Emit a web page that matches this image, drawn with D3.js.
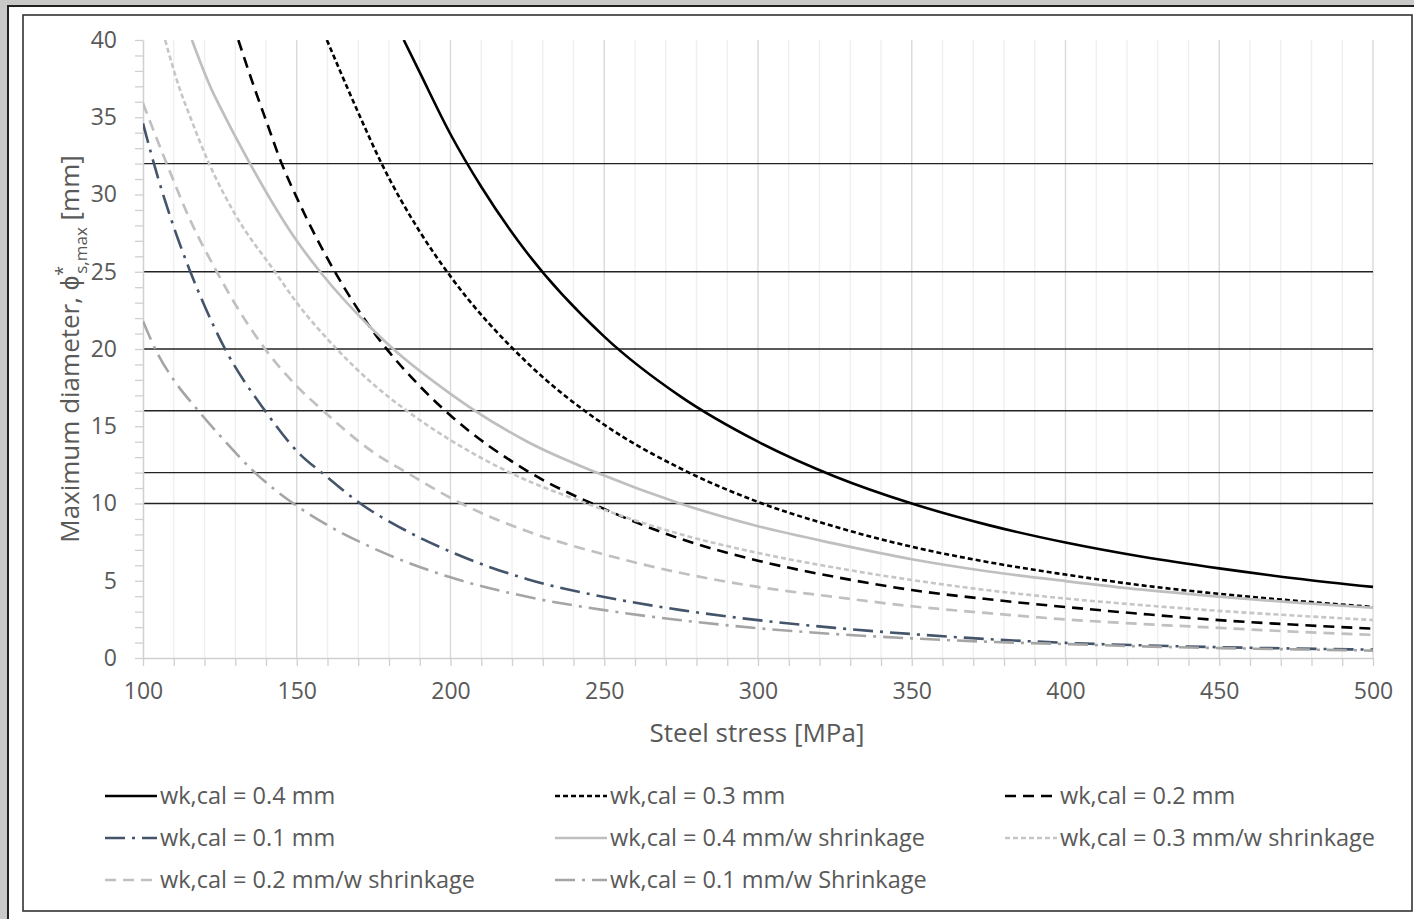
<!DOCTYPE html>
<html>
<head>
<meta charset="utf-8">
<script src="https://cdn.jsdelivr.net/npm/d3@7"></script>
<style>
  body { margin: 0; background: #c9c9c7; }
  svg { display: block; font-family: "Open Sans", sans-serif; }
</style>
</head>
<body>
<svg id="chart"></svg>
<script>
// steel stress [MPa] vs maximum bar diameter [mm]
var wk04  = [[184.8,40],[190,37.9],[200,33.9],[210,30.5],[225,26.2],[250,20.8],[275,16.9],[300,14.0],[325,11.75],[350,10],[375,8.6],[400,7.47],[425,6.55],[450,5.8],[475,5.15],[500,4.6]];
var wk03  = [[159.8,40],[170,35.3],[177.6,32],[190,27.6],[200,24.7],[225,19.1],[250,15.1],[275,12.25],[300,10.1],[325,8.5],[350,7.2],[375,6.2],[400,5.4],[425,4.7],[450,4.15],[475,3.7],[500,3.3]];
var wk02  = [[131,40],[136.4,36.8],[140,34.8],[145.1,32],[150,29.8],[162.4,25],[175,21.1],[190,17.6],[200,15.7],[225,12.1],[250,9.65],[275,7.7],[300,6.3],[325,5.25],[350,4.4],[375,3.8],[400,3.3],[425,2.85],[450,2.45],[475,2.15],[500,1.9]];
var wk01  = [[100,34.6],[105,31.0],[110,27.9],[115,25.2],[120,22.8],[126.7,20],[139.7,16],[150,13.4],[160,11.7],[170,10.1],[185,8.3],[200,6.88],[225,5.1],[250,3.95],[275,3.1],[300,2.45],[325,1.95],[350,1.55],[375,1.22],[400,0.98],[425,0.82],[450,0.7],[475,0.61],[500,0.54]];
var wk04s = [[115.9,40],[122.3,36.8],[125,35.7],[134.8,32],[150,27.0],[157.6,25],[175,21.2],[181.4,20],[200,17.1],[208,16],[225,14.0],[247.5,12],[274.6,10],[300,8.53],[325,7.4],[350,6.39],[375,5.6],[400,4.98],[425,4.42],[450,3.97],[475,3.58],[500,3.25]];
var wk03s = [[107.2,40],[112,36.8],[115,35.2],[121.5,32],[130,28.7],[142.9,25],[150,23.0],[163,20],[175,17.7],[185.8,16],[200,14.1],[219.3,12],[244.3,10],[275,8.0],[300,6.8],[325,5.85],[350,5.05],[375,4.38],[400,3.85],[425,3.42],[450,3.05],[475,2.74],[500,2.46]];
var wk02s = [[100,35.9],[107.7,32],[115,28.5],[124,25],[130,22.9],[139.7,20],[150,17.6],[158.6,16],[175,13.3],[185.8,12],[203.5,10],[225,8.2],[250,6.7],[275,5.5],[300,4.6],[325,3.95],[350,3.35],[375,2.9],[400,2.5],[425,2.2],[450,1.95],[475,1.7],[500,1.5]];
var wk01s = [[100,21.8],[105,19.6],[110,18.0],[118,16],[125,14.4],[136.4,12],[148.9,10],[160,8.6],[175,7.1],[200,5.22],[225,3.96],[250,3.1],[275,2.44],[300,1.93],[325,1.55],[350,1.27],[375,1.05],[400,0.9],[425,0.75],[450,0.64],[475,0.56],[500,0.48]];

var barDiameters = [10, 12, 16, 20, 25, 32];
var xTickLabels = [100, 150, 200, 250, 300, 350, 400, 450, 500];
var yTickLabels = [0, 5, 10, 15, 20, 25, 30, 35, 40];
var xMinorTicks = d3.range(100, 501, 10);
var yMinorTicks = d3.range(0, 41, 1);

var seriesNames = [
    'wk,cal = 0.4 mm', 'wk,cal = 0.3 mm', 'wk,cal = 0.2 mm',
    'wk,cal = 0.1 mm', 'wk,cal = 0.4 mm/w shrinkage', 'wk,cal = 0.3 mm/w shrinkage',
    'wk,cal = 0.2 mm/w shrinkage', 'wk,cal = 0.1 mm/w Shrinkage'
];
var seriesData = [wk04, wk03, wk02, wk01, wk04s, wk03s, wk02s, wk01s];

// line looks, same order as the names
var looks = [
    {color: '#000000', width: 2.6, dash: null},
    {color: '#000000', width: 2.6, dash: '5,3'},
    {color: '#000000', width: 2.6, dash: '11,7'},
    {color: '#44546a', width: 2.6, dash: '20,7,3,7'},
    {color: '#bfbfbf', width: 2.7, dash: null},
    {color: '#c6c6c6', width: 2.6, dash: '5,3'},
    {color: '#c0c0c0', width: 2.7, dash: '11,7'},
    {color: '#a5a5a5', width: 2.6, dash: '20,7,3,7'}
];

function start() {
    var svg = d3.select('#chart')
        .attr('width', 1414)
        .attr('height', 919);

    // paper frames
    svg.append('rect')
        .attr('x', 8).attr('y', 6).attr('width', 1420).attr('height', 930)
        .attr('fill', '#ffffff').attr('stroke', '#222').attr('stroke-width', 2);
    svg.append('rect')
        .attr('x', 23).attr('y', 15).attr('width', 1389).attr('height', 896)
        .attr('fill', '#ffffff').attr('stroke', '#333').attr('stroke-width', 1.6);

    var x = d3.scaleLinear().domain([100, 500]).range([143, 1373]);
    var y = d3.scaleLinear().domain([0, 40]).range([658, 40]);

    // vertical grid
    svg.append('g').selectAll('line')
        .data(xMinorTicks.filter(function (d) { return d > 100; }))
        .enter().append('line')
        .attr('x1', function (d) { return x(d); })
        .attr('x2', function (d) { return x(d); })
        .attr('y1', y(40)).attr('y2', y(0))
        .attr('stroke', function (d) { return d % 50 === 0 ? '#d9d9d9' : '#efefef'; })
        .attr('stroke-width', 1.4);

    // bar diameter lines
    svg.append('g').selectAll('line')
        .data(barDiameters)
        .enter().append('line')
        .attr('x1', x(100)).attr('x2', x(500))
        .attr('y1', function (d) { return y(d); })
        .attr('y2', function (d) { return y(d); })
        .attr('stroke', '#222').attr('stroke-width', 1.4);

    // axes
    var xAxis = d3.axisBottom(x)
        .tickValues(xMinorTicks)
        .tickSize(8).tickSizeOuter(0).tickPadding(17)
        .tickFormat(function (d) { return xTickLabels.indexOf(d) >= 0 ? d : ''; });
    var gx = svg.append('g').attr('transform', 'translate(0,' + y(0) + ')').call(xAxis);

    var yAxis = d3.axisLeft(y)
        .tickValues(yMinorTicks)
        .tickSize(8).tickSizeOuter(0).tickPadding(18)
        .tickFormat(function (d) { return yTickLabels.indexOf(d) >= 0 ? d : ''; });
    var gy = svg.append('g').attr('transform', 'translate(' + x(100) + ',0)').call(yAxis);

    [gx, gy].forEach(function (g) {
        g.select('.domain').attr('stroke', '#d0d0d0').attr('stroke-width', 1.5);
        g.selectAll('.tick line').attr('stroke', '#d0d0d0').attr('stroke-width', 1.3);
        g.selectAll('.tick text')
            .attr('fill', '#595959')
            .style('font-size', '23px')
            .style('font-family', '"Open Sans", sans-serif');
    });

    // curves
    svg.append('clipPath').attr('id', 'plot')
        .append('rect').attr('x', x(100)).attr('y', y(40))
        .attr('width', x(500) - x(100) + 2).attr('height', y(0) - y(40));

    var line = d3.line()
        .x(function (d) { return x(d[0]); })
        .y(function (d) { return y(d[1]); })
        .curve(d3.curveMonotoneX);

    svg.append('g').attr('clip-path', 'url(#plot)')
        .selectAll('path')
        .data(seriesData)
        .enter().append('path')
        .attr('d', line)
        .attr('fill', 'none')
        .attr('stroke', function (d, i) { return looks[i].color; })
        .attr('stroke-width', function (d, i) { return looks[i].width; })
        .attr('stroke-dasharray', function (d, i) { return looks[i].dash; });

    // axis titles
    svg.append('text')
        .attr('x', 757).attr('y', 742)
        .attr('text-anchor', 'middle')
        .attr('fill', '#595959')
        .style('font-size', '26px')
        .text('Steel stress [MPa]');

    var yt = svg.append('text')
        .attr('transform', 'translate(79,349) rotate(-90)')
        .attr('text-anchor', 'middle')
        .attr('fill', '#595959')
        .style('font-size', '26px');
    yt.append('tspan').text('Maximum diameter, \u03d5');
    yt.append('tspan').attr('dy', -10).style('font-size', '18px').text('*');
    yt.append('tspan').attr('dx', -8).attr('dy', 18).style('font-size', '17px').text('s,max');
    yt.append('tspan').attr('dy', -8).text(' [mm]');

    // legend
    var legendCols = [105, 555, 1005];
    var legendRows = [796, 838, 880];
    var leg = svg.append('g').selectAll('g')
        .data(seriesNames)
        .enter().append('g')
        .attr('transform', function (d, i) {
            return 'translate(' + legendCols[i % 3] + ',' + legendRows[Math.floor(i / 3)] + ')';
        });
    leg.append('line')
        .attr('x1', 0).attr('x2', 52)
        .attr('stroke', function (d, i) { return looks[i].color; })
        .attr('stroke-width', function (d, i) { return looks[i].width; })
        .attr('stroke-dasharray', function (d, i) { return looks[i].dash; });
    leg.append('text')
        .attr('x', 55).attr('y', 8)
        .attr('fill', '#595959')
        .style('font-size', '23.5px')
        .text(function (d) { return d; });
}

start();
</script>
</body>
</html>
